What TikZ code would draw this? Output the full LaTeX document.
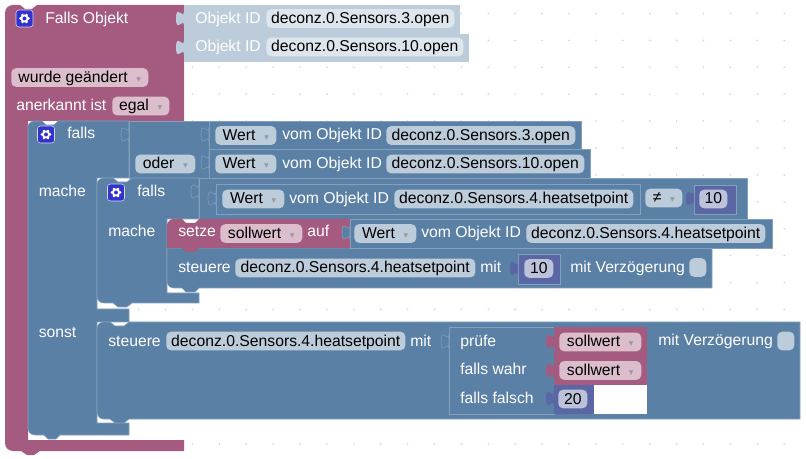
\documentclass[tikz,border=0pt]{standalone}
\usepackage{fontspec}
\setmainfont{Liberation Sans}
\newfontfamily\symfont{DejaVu Sans}
\usepackage{tikz}
\definecolor{lila}{HTML}{A55B80}
\definecolor{blau}{HTML}{5B80A5}
\definecolor{zahl}{HTML}{5B67A5}
\definecolor{hell}{HTML}{BDCCDB}
\definecolor{kante}{HTML}{83A0BC}
\definecolor{feldblau}{HTML}{BDCCDB}
\definecolor{feldhell}{HTML}{DEE6ED}
\definecolor{feldlila}{HTML}{DBBDCC}
\definecolor{feldzahl}{HTML}{BDC2DB}
\definecolor{iconblau}{HTML}{3333CC}
\definecolor{punkt}{HTML}{CFCFCF}
\tikzset{
  block/.style={fill=blau,draw=kante,line width=0.4pt},
  blocklila/.style={fill=lila},
  blockhell/.style={fill=hell},
  blockzahl/.style={fill=zahl,draw=kante,line width=0.3pt},
  tabblau/.style={fill=blau,draw=kante,line width=0.4pt},
  tablila/.style={fill=lila},
  tabhell/.style={fill=hell},
  tabzahl/.style={fill=zahl},
  wort/.style={anchor=west,inner sep=0pt,text=white,text height=10pt,text depth=2.5pt,font=\fontsize{11.8}{13}\selectfont},
  feld/.style={anchor=west,inner sep=0pt,rounded corners=3.6pt,minimum height=14pt,text=black,text height=10pt,text depth=2.5pt,font=\fontsize{11.8}{13}\selectfont},
  fb/.style={feld,fill=feldblau,minimum width=#1*0.75pt},
  fh/.style={feld,fill=feldhell,minimum width=#1*0.75pt},
  fl/.style={feld,fill=feldlila,minimum width=#1*0.75pt},
  fz/.style={feld,fill=feldzahl,minimum width=#1*0.75pt},
  zahnrad/.pic={
    \draw[fill=iconblau,draw=white!80!iconblau,line width=0.4pt,rounded corners=2.2pt] (-8.5,-8.5) rectangle (8.5,8.5);
    \foreach \w in {0,60,...,300} \fill[white] (\w:4) circle (1.5);
    \fill[white] (0,0) circle (4);
    \fill[iconblau] (0,0) circle (2);
  },
}
\newcommand{\pfeil}{\hspace{6.5pt}{\symfont\fontsize{7}{7}\selectfont\textcolor{black!40}{▾}}}
\newcommand{\buchse}[3][tabblau]{\path[#1] (#2,#3) .. controls (#2,#3+10) and (#2-8,#3-8) .. (#2-8,#3+7.5) .. controls (#2-8,#3+23) and (#2,#3+5) .. (#2,#3+15) -- cycle;}
\begin{document}
\begin{tikzpicture}[x=0.75pt,y=-0.75pt]
\useasboundingbox (0,0) rectangle (806,459);
% raster
\foreach \i in {0,...,28} \foreach \j in {0,...,16}
  \fill[punkt] (31+26.9*\i,13.5+26.9*\j) circle (0.9);
% aussen
\path[blocklila] (5,30) [rounded corners=6pt] -- (5,5) [sharp corners] -- (20,5) -- (25,9) -- (32,9) -- (37,5) -- (184,5) -- (184,121) -- (28,121) -- (28,440) -- (184,440) -- (184,451) -- (40,451) -- (34,455) -- (27,455) -- (21,451) [rounded corners=6pt] -- (5,451) -- cycle;
\pic at (24.5,18.5) {zahnrad};
\node[wort] (tFalls) at (45,18.5) {Falls Objekt};
\path[blockhell] (184,5) rectangle (460,34);
\path[blockhell] (184,34) rectangle (469,62);
\buchse[tabhell]{184}{11}
\buchse[tabhell]{184}{40}
\node[wort] (tId1) at (195,18.5) {Objekt ID};
\node[fh=188] (fId1) at (266,18.5) {deconz.0.Sensors.3.open};
\node[wort] (tId2) at (195,47) {Objekt ID};
\node[fh=197] (fId2) at (266,47) {deconz.0.Sensors.10.open};
\node[fl=137] (fWurde) at (11,77.5) {wurde geändert\pfeil};
\node[wort] (tAner) at (16,105.5) {anerkannt ist};
\node[fl=57] (fEgal) at (112,106) {egal\pfeil};
% falls aussen
\draw[block] (28,130) [rounded corners=5pt] -- (28,121) [sharp corners] -- (42,121) -- (46,125) -- (54,125) -- (58,121) -- (129,121) -- (129,178) -- (97,178) -- (97,309) -- (129,309) -- (129,322) -- (97,322) -- (97,423) -- (129,423) -- (129,435) -- (60,435) -- (56,439) -- (48,439) -- (44,435) [rounded corners=5pt] -- (28,435) -- cycle;
\pic at (46,134.5) {zahnrad};
\node[wort] (tFalls1) at (67,134) {falls};
\node[wort] (tMache1) at (38.5,191.5) {mache};
\node[wort] (tSonst) at (38.5,333) {sonst};
\path[block] (129,121) rectangle (209,178);
\buchse{129}{127}
\node[fb=60] (fOder) at (135,164) {oder\pfeil};
\path[block] (209,121) rectangle (581,149);
\buchse{209}{127}
\node[fb=61] (fWert1) at (215,135.5) {Wert\pfeil};
\node[wort] (tVom1) at (282,135) {vom Objekt ID};
\node[fb=189] (fSens1) at (386,135.5) {deconz.0.Sensors.3.open};
\path[block] (209,149) rectangle (590,178);
\buchse{209}{155}
\node[fb=61] (fWert2) at (215,164) {Wert\pfeil};
\node[wort] (tVom2) at (282,164) {vom Objekt ID};
\node[fb=198] (fSens2) at (386,164) {deconz.0.Sensors.10.open};
% falls innen
\draw[block] (97,195) [rounded corners=5pt] -- (97,178) [sharp corners] -- (113,178) -- (118,182) -- (127,182) -- (132,178) -- (199,178) -- (199,219) -- (167,219) -- (167,293) -- (199,293) -- (199,303) -- (132,303) -- (127,307) -- (118,307) -- (113,303) [rounded corners=5pt] -- (97,303) -- cycle;
\pic at (116,192.5) {zahnrad};
\node[wort] (tFalls2) at (137,192) {falls};
\node[wort] (tMache2) at (108,231.5) {mache};
\path[block] (199,178) rectangle (747,219);
\buchse{199}{184}
\path[block] (216,184) rectangle (640,214);
\buchse{216}{191}
\node[fb=62] (fWert3) at (222,199) {Wert\pfeil};
\node[wort] (tVom3) at (289,199) {vom Objekt ID};
\node[fb=239] (fSens3) at (394,199) {deconz.0.Sensors.4.heatsetpoint};
\node[fb=37] (fUngl) at (645,198) {≠\pfeil};
\path[blockzahl] (694,185) rectangle (736,214);
\buchse[tabzahl]{694}{191}
\node[fz=28] (fZehn1) at (699,199) {10};
% steuere 1
\draw[block] (167,270) -- (167,248) -- (712,248) -- (712,288) -- (199,288) -- (195,292) -- (186,292) -- (182,288) [rounded corners=5pt] -- (167,288) -- cycle;
\node[wort] (tSteuere1) at (178,268) {steuere};
\node[fb=240] (fSens4) at (235,268) {deconz.0.Sensors.4.heatsetpoint};
\node[wort] (tMit1) at (480,268) {mit};
\path[blockzahl] (518,254) rectangle (560,284);
\buchse[tabzahl]{518}{261}
\node[fz=29] (fZehn2) at (524,268.5) {10};
\node[wort] (tVerz1) at (570,268) {mit Verzögerung};
\node[fb=17] (fHaken1) at (689,267.5) {};
% setze
\path[blocklila] (167,235) [rounded corners=5pt] -- (167,219) [sharp corners] -- (182,219) -- (186,223) -- (195,223) -- (199,219) -- (350,219) -- (350,248) -- (199,248) -- (195,252) -- (186,252) -- (182,248) -- (167,248) -- cycle;
\node[wort] (tSetze) at (178,232) {setze};
\node[fl=82] (fSoll1) at (220,233.5) {sollwert\pfeil};
\node[wort] (tAuf) at (307,232) {auf};
\path[block] (350,219) rectangle (772,248);
\buchse{350}{225}
\node[fb=62] (fWert4) at (354,233.5) {Wert\pfeil};
\node[wort] (tVom4) at (421,232.5) {vom Objekt ID};
\node[fb=239] (fSens5) at (526,233.5) {deconz.0.Sensors.4.heatsetpoint};
% steuere 2
\draw[block] (97,340) [rounded corners=5pt] -- (97,322) [sharp corners] -- (110,322) -- (115,326) -- (124,326) -- (129,322) -- (800,322) -- (800,419) -- (129,419) -- (124,423) -- (115,423) -- (110,419) [rounded corners=5pt] -- (97,419) -- cycle;
\node[wort] (tSteuere2) at (108,341) {steuere};
\node[fb=239] (fSens6) at (166,341) {deconz.0.Sensors.4.heatsetpoint};
\node[wort] (tMit2) at (410,341) {mit};
\path[block] (449,327) rectangle (554,414);
\buchse{449}{334}
\node[wort] (tPruefe) at (460,341) {prüfe};
\node[wort] (tWahr) at (460,369) {falls wahr};
\node[wort] (tFalsch) at (460,398) {falls falsch};
\path[blocklila] (554,327) rectangle (647,356);
\path[blocklila] (554,356) rectangle (647,385);
\buchse[tablila]{554}{334}
\buchse[tablila]{554}{363}
\node[fl=82] (fSoll2) at (559,342) {sollwert\pfeil};
\node[fl=82] (fSoll3) at (559,370.5) {sollwert\pfeil};
\fill[white] (594,385) rectangle (647,414);
\fill[zahl] (554,385) rectangle (594,414);
\buchse[tabzahl]{554}{391}
\node[fz=29] (fZwanzig) at (558,399) {20};
\node[wort] (tVerz2) at (658,340) {mit Verzögerung};
\node[fb=17] (fHaken2) at (777,341) {};
\end{tikzpicture}
\end{document}
